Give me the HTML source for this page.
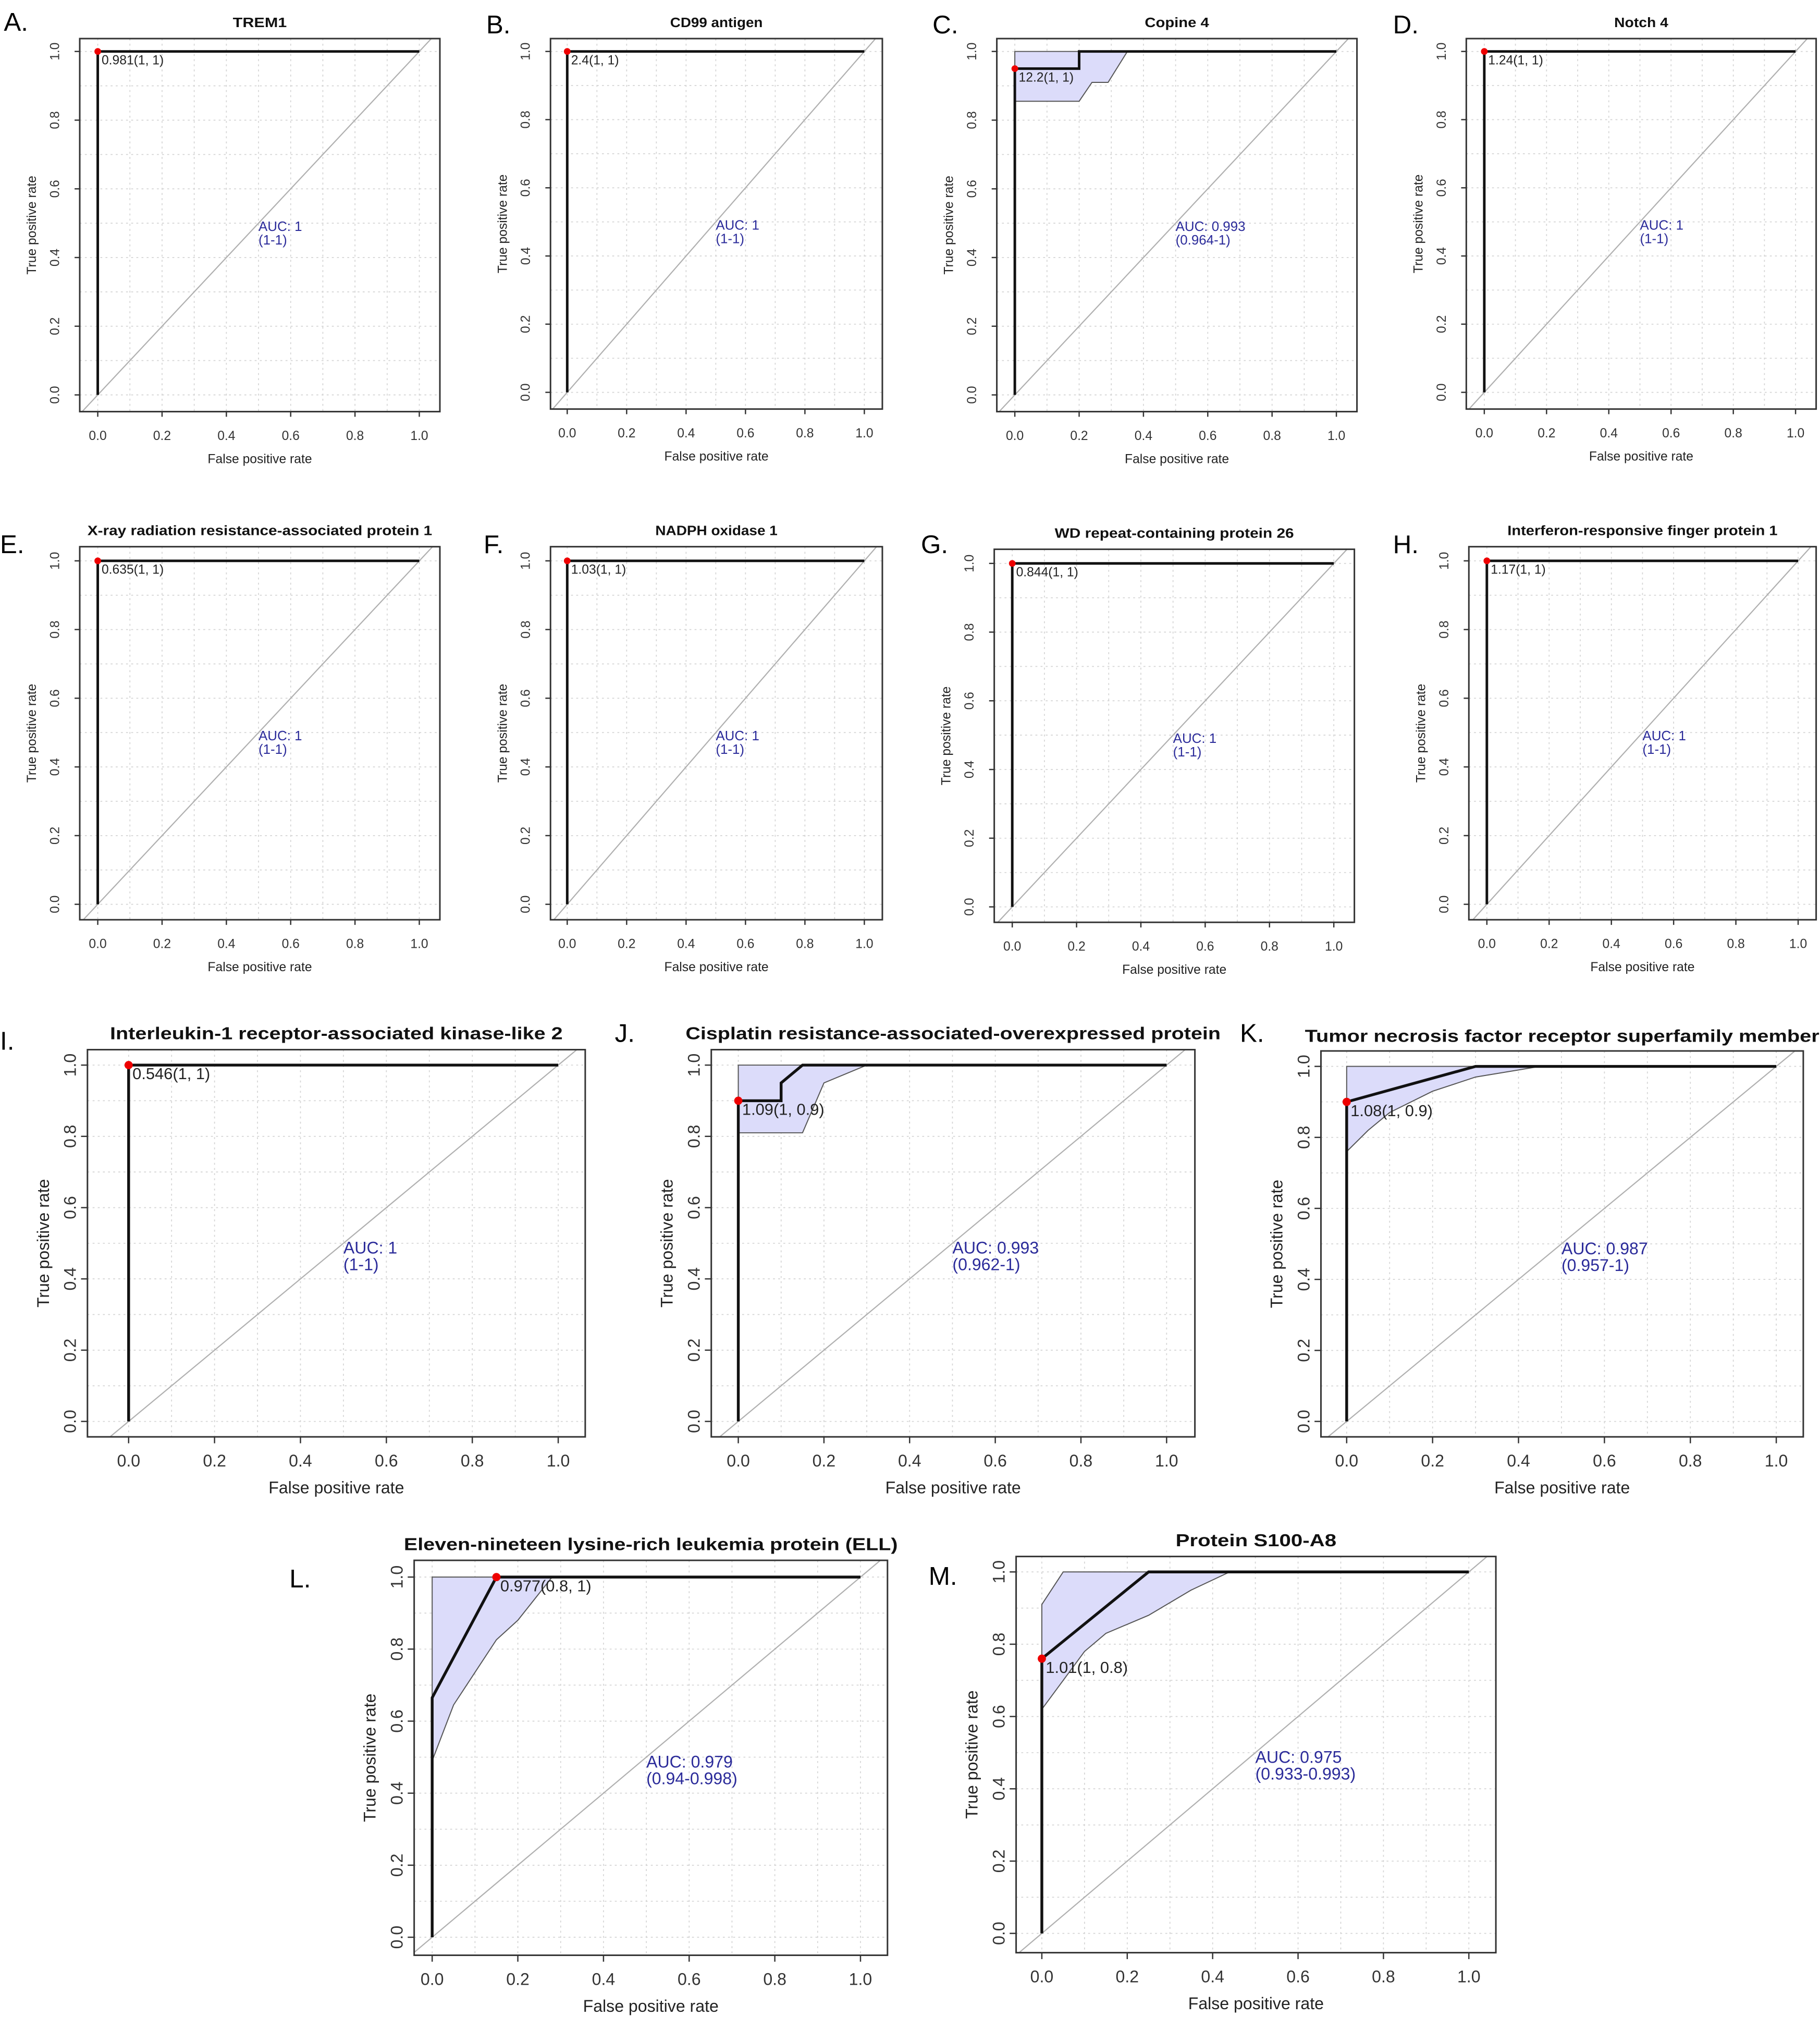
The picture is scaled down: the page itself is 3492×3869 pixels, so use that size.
<!DOCTYPE html>
<html><head><meta charset="utf-8"><style>
html,body{margin:0;padding:0;background:#fff}
svg{display:block}
text{font-family:"Liberation Sans",sans-serif}
</style></head><body>
<svg id="fig" xmlns="http://www.w3.org/2000/svg" width="3492" height="3869" viewBox="0 0 1415 1568" preserveAspectRatio="none">
<rect x="0" y="0" width="1415" height="1568" fill="#fff"/>
</svg>
<script>
// ---- data ----
const panelLetters = ["A.","B.","C.","D.","E.","F.","G.","H.","I.","J.","K.","L.","M."];
const panelTitles = ["TREM1","CD99 antigen","Copine 4","Notch 4",
 "X-ray radiation resistance-associated protein 1","NADPH oxidase 1","WD repeat-containing protein 26","Interferon-responsive finger protein 1",
 "Interleukin-1 receptor-associated kinase-like 2","Cisplatin resistance-associated-overexpressed protein","Tumor necrosis factor receptor superfamily member",
 "Eleven-nineteen lysine-rich leukemia protein (ELL)","Protein S100-A8"];
const aucValues = ["AUC: 1","AUC: 1","AUC: 0.993","AUC: 1","AUC: 1","AUC: 1","AUC: 1","AUC: 1","AUC: 1","AUC: 0.993","AUC: 0.987","AUC: 0.979","AUC: 0.975"];
const aucCI = ["(1-1)","(1-1)","(0.964-1)","(1-1)","(1-1)","(1-1)","(1-1)","(1-1)","(1-1)","(0.962-1)","(0.957-1)","(0.94-0.998)","(0.933-0.993)"];
const thresholdLabels = ["0.981(1, 1)","2.4(1, 1)","12.2(1, 1)","1.24(1, 1)","0.635(1, 1)","1.03(1, 1)","0.844(1, 1)","1.17(1, 1)","0.546(1, 1)","1.09(1, 0.9)","1.08(1, 0.9)","0.977(0.8, 1)","1.01(1, 0.8)"];
const pointX = [0,0,0,0,0,0,0,0,0,0,0,0.15,0];
const pointY = [1,1,0.95,1,1,1,1,1,1,0.9,0.9,1,0.76];
const curveX = [[0,0,1],[0,0,1],[0,0,0.2,0.2,1],[0,0,1],[0,0,1],[0,0,1],[0,0,1],[0,0,1],[0,0,1],
 [0,0,0.1,0.1,0.15,1],[0,0,0.3,1],[0,0,0.15,1],[0,0,0.25,1]];
const curveY = [[0,1,1],[0,1,1],[0,0.95,0.95,1,1],[0,1,1],[0,1,1],[0,1,1],[0,1,1],[0,1,1],[0,1,1],
 [0,0.9,0.9,0.95,1,1],[0,0.9,1,1],[0,0.665,1,1],[0,0.76,1,1]];
const bandUpperX = [[],[],[0,0.35],[],[],[],[],[],[],[0,0.3],[0,0.45],[0,0.28],[0,0.05,0.44]];
const bandUpperY = [[],[],[1,1],[],[],[],[],[],[],[1,1],[1,1],[1,1],[0.91,1,1]];
const bandLowerX = [[],[],[0,0.2,0.24,0.29,0.35],[],[],[],[],[],[],[0,0.15,0.2,0.3],[0,0.05,0.1,0.2,0.3,0.45],[0,0.05,0.15,0.2,0.28],[0,0.1,0.15,0.25,0.35,0.44]];
const bandLowerY = [[],[],[0.855,0.855,0.91,0.91,1],[],[],[],[],[],[],[0.81,0.81,0.95,1],[0.76,0.82,0.87,0.93,0.97,1],[0.49,0.645,0.826,0.88,1],[0.62,0.78,0.83,0.88,0.95,1]];
const tickValues = [0,0.2,0.4,0.6,0.8,1];
const tickLabels = ["0.0","0.2","0.4","0.6","0.8","1.0"];

// ---- layout (display coords) ----
const layout = [
 {x0:76,x1:326,y0:307,y1:40,bl:62,br:342,bt:30,bb:320,s:0,ty:21,lx:3,ly:24,tw:42},
 {x0:441,x1:672,y0:305,y1:40,bl:428,br:686,bt:30,bb:318,s:0,ty:21,lx:378,ly:26,tw:72},
 {x0:789,x1:1039,y0:307,y1:40,bl:775,br:1055,bt:30,bb:320,s:0,ty:21,lx:725,ly:26,tw:50},
 {x0:1154,x1:1396,y0:305,y1:40,bl:1140,br:1412,bt:30,bb:318,s:0,ty:21,lx:1083,ly:26,tw:42},
 {x0:76,x1:326,y0:703,y1:436,bl:62,br:342,bt:425,bb:715,s:0,ty:416,lx:0,ly:430,tw:268},
 {x0:441,x1:672,y0:703,y1:436,bl:428,br:686,bt:425,bb:715,s:0,ty:416,lx:376,ly:430,tw:95},
 {x0:787,x1:1037,y0:705,y1:438,bl:773,br:1053,bt:427,bb:717,s:0,ty:418,lx:716,ly:430,tw:186},
 {x0:1156,x1:1398,y0:703,y1:436,bl:1142,br:1412,bt:425,bb:715,s:0,ty:416,lx:1083,ly:430,tw:210},
 {x0:100,x1:434,y0:1105,y1:828,bl:68,br:455,bt:816,bb:1117,s:1,ty:808,lx:0,ly:816,tw:352},
 {x0:574,x1:907,y0:1105,y1:828,bl:553,br:929,bt:816,bb:1117,s:1,ty:808,lx:478,ly:810,tw:416},
 {x0:1047,x1:1381,y0:1105,y1:829,bl:1027,br:1402,bt:817,bb:1117,s:1,ty:810,lx:964,ly:810,tw:400},
 {x0:336,x1:669,y0:1506,y1:1226,bl:322,br:690,bt:1213,bb:1520,s:1,ty:1205,lx:225,ly:1234,tw:384},
 {x0:810,x1:1142,y0:1503,y1:1222,bl:790,br:1163,bt:1210,bb:1518,s:1,ty:1202,lx:722,ly:1232,tw:125}
];

const svg = document.getElementById('fig');
const NS = "http://www.w3.org/2000/svg";
function mk(tag, attrs, parent){
  const e = document.createElementNS(NS, tag);
  for (const k in attrs) e.setAttribute(k, attrs[k]);
  parent.appendChild(e);
  return e;
}

panelTitles.forEach((title, i) => {
  const L = layout[i];
  const sx = v => L.x0 + v * (L.x1 - L.x0);
  const sy = v => L.y0 + v * (L.y1 - L.y0);
  const fsT = L.s ? 13.5 : 10.5, fsTick = L.s ? 13 : 10, fsLab = L.s ? 13 : 10, fsAuc = L.s ? 13 : 10.5;
  const g = mk('g', {}, svg);
  
  
  const cid = 'clip' + i;
  const cp = mk('clipPath', {id: cid}, g);
  mk('rect', {x: L.bl, y: L.bt, width: L.br - L.bl, height: L.bb - L.bt}, cp);

  const grid = mk('g', {stroke: '#d4d4d4', 'stroke-width': 0.7, 'stroke-dasharray': '1.5,2.5', 'clip-path': 'url(#' + cid + ')'}, g);
  
  
  for (let k = 0; k <= 10; k++) {
    const v = k / 10;
    mk('line', {x1: sx(v), x2: sx(v), y1: L.bt, y2: L.bb}, grid);
    mk('line', {x1: L.bl, x2: L.br, y1: sy(v), y2: sy(v)}, grid);
  }
  const dg = mk('line', {x1: sx(-0.2), y1: sy(-0.2), x2: sx(1.2), y2: sy(1.2), stroke: '#b0b0b0', 'stroke-width': 0.9, 'clip-path': 'url(#' + cid + ')'}, g);
  
  

  if (bandUpperX[i].length) {
    const pts = [];
    bandUpperX[i].forEach((x, k) => pts.push(sx(x) + ',' + sy(bandUpperY[i][k])));
    for (let k = bandLowerX[i].length - 1; k >= 0; k--) pts.push(sx(bandLowerX[i][k]) + ',' + sy(bandLowerY[i][k]));
    const band = mk('polygon', {points: pts.join(' '), fill: '#dcdcfa', stroke: '#555', 'stroke-width': 0.8}, g);
    
    
  }
  const cpts = curveX[i].map((x, k) => sx(x) + ',' + sy(curveY[i][k])).join(' ');
  const curve = mk('polyline', {points: cpts, fill: 'none', stroke: '#111', 'stroke-width': L.s ? 2.2 : 2}, g);
  
  

  const box = mk('rect', {x: L.bl, y: L.bt, width: L.br - L.bl, height: L.bb - L.bt, fill: 'none', stroke: '#333', 'stroke-width': 1.2}, g);
  
  

  const tl = L.s ? 5 : 4;
  const xtOff = L.s ? 5 : 8;
  const ytOff = L.s ? 4 : 12;
  tickValues.forEach((v, k) => {
    mk('line', {x1: sx(v), x2: sx(v), y1: L.bb, y2: L.bb + tl, stroke: '#333', 'stroke-width': 1}, g);
    const xt = mk('text', {x: sx(v), y: L.bb + tl + fsTick + xtOff, 'font-size': fsTick, 'text-anchor': 'middle', fill: '#333'}, g);
    xt.textContent = tickLabels[k];
    
    
    mk('line', {x1: L.bl, x2: L.bl - tl, y1: sy(v), y2: sy(v), stroke: '#333', 'stroke-width': 1}, g);
    const tx = L.bl - tl - ytOff, ty = sy(v);
    const yt = mk('text', {x: tx, y: ty, 'font-size': fsTick, 'text-anchor': 'middle', fill: '#333', transform: 'rotate(-90 ' + tx + ' ' + ty + ')'}, g);
    yt.textContent = tickLabels[k];
    
    
  });
  const xl = mk('text', {x: (L.bl + L.br) / 2, y: L.bb + tl + fsTick * 2 + 8 + xtOff, 'font-size': fsLab, 'text-anchor': 'middle', fill: '#222'}, g);
  xl.textContent = 'False positive rate';
  
  
  const ylx = L.bl - tl - fsTick - (L.s ? 12 : 20), yly = (L.bt + L.bb) / 2;
  const yl = mk('text', {x: ylx, y: yly, 'font-size': fsLab, 'text-anchor': 'middle', fill: '#222', transform: 'rotate(-90 ' + ylx + ' ' + yly + ')'}, g);
  yl.textContent = 'True positive rate';
  
  

  const t = mk('text', {x: (L.bl + L.br) / 2, y: L.ty, 'font-size': fsT, 'font-weight': 'bold', 'text-anchor': 'middle', fill: '#111', textLength: L.tw, lengthAdjust: 'spacingAndGlyphs'}, g);
  t.textContent = title;
  
  
  const le = mk('text', {x: L.lx, y: L.ly, 'font-size': 20, fill: '#000'}, g);
  le.textContent = panelLetters[i];
  
  

  const aOff = L.s ? 8 : 6;
  const a1 = mk('text', {x: sx(0.5), y: sy(0.5) + aOff, 'font-size': fsAuc, fill: '#2b2b9a'}, g);
  a1.textContent = aucValues[i];
  
  
  const a2 = mk('text', {x: sx(0.5), y: sy(0.5) + aOff + fsAuc, 'font-size': fsAuc, fill: '#2b2b9a'}, g);
  a2.textContent = aucCI[i];
  
  

  const p = mk('circle', {cx: sx(pointX[i]), cy: sy(pointY[i]), r: L.s ? 3.2 : 2.6, fill: '#e00'}, g);
  
  
  const pt = mk('text', {x: sx(pointX[i]) + 3, y: sy(pointY[i]) + (L.s ? 11 : 10), 'font-size': L.s ? 12.5 : 10, fill: '#222'}, g);
  pt.textContent = thresholdLabels[i];
  
  
});
</script>
</body></html>
